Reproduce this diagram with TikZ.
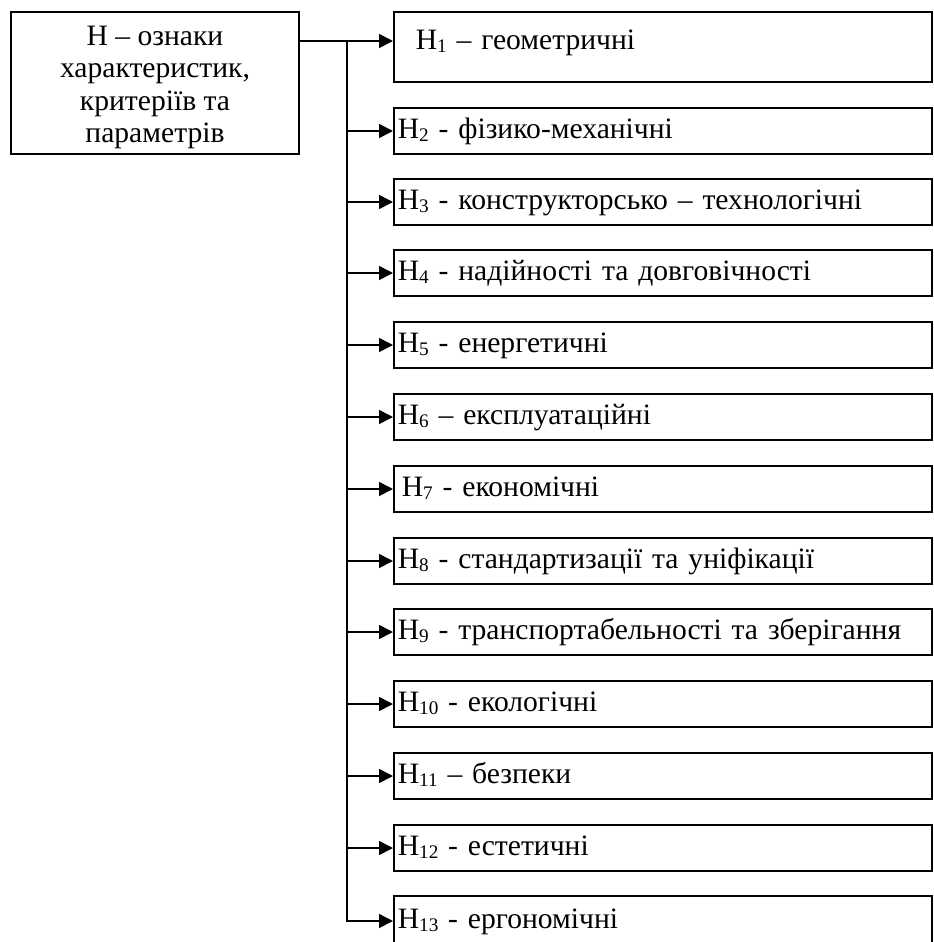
\documentclass[tikz,border=0pt]{standalone}
\usepackage{fontspec}
\setmainfont{Liberation Serif}
\usetikzlibrary{arrows.meta}
\newcommand{\hsub}[1]{\raisebox{-0.25ex}{\fontsize{9.6}{10}\selectfont #1}}
\begin{document}
\begin{tikzpicture}[x=0.5pt, y=-0.5pt, line width=0.8pt,
    every node/.style={font=\fontsize{14.8}{16.25}\selectfont},
    ozn/.style={draw, anchor=west, inner xsep=2pt, inner ysep=0pt,
      text width=265pt, align=left, text height=10pt, text depth=3pt,
      minimum height=23pt},
    arr/.style={-{Triangle[length=7pt,width=7pt]}}]
    \useasboundingbox (0,0) rectangle (933,942);

    % Hauptblock links
    \node[draw, minimum width=144pt, minimum height=71pt, align=center, inner sep=0pt]
      (h0) at (155,83) {\rule{0pt}{14pt}Н – ознаки\\характеристик,\\критеріїв та\\параметрів};

    % Gruppen rechts
    \node[ozn, minimum height=35pt, text depth=8pt] (h1) at (393,47) {\hspace*{9pt}Н\hsub{1} – геометричні};
    \node[ozn] (h2) at (393,131) {Н\hsub{2} - фізико-механічні};
    \node[ozn] (h3) at (393,202) {Н\hsub{3} - конструкторсько – технологічні};
    \node[ozn] (h4) at (393,273) {Н\hsub{4} - надійності та довговічності};
    \node[ozn] (h5) at (393,345) {Н\hsub{5} - енергетичні};
    \node[ozn] (h6) at (393,417) {Н\hsub{6} – експлуатаційні};
    \node[ozn] (h7) at (393,489) {\hspace*{2pt}Н\hsub{7} - економічні};
    \node[ozn] (h8) at (393,561) {Н\hsub{8} - стандартизації та уніфікації};
    \node[ozn] (h9) at (393,632) {Н\hsub{9} - транспортабельності та зберігання};
    \node[ozn] (h10) at (393,704) {Н\hsub{10} - екологічні};
    \node[ozn] (h11) at (393,776) {Н\hsub{11} – безпеки};
    \node[ozn] (h12) at (393,848) {Н\hsub{12} - естетичні};
    \node[ozn, minimum height=25pt] (h13) at (393,921) {Н\hsub{13} - ергономічні};

    % Verbindungen
    \coordinate (top) at (347,41);
    \draw[arr] (h0.east |- top) -- (h1.west |- top);
    \draw[arr] (top) |- (h13.west);
    \draw[arr] (top |- h2.west) -- (h2.west);
    \draw[arr] (top |- h3.west) -- (h3.west);
    \draw[arr] (top |- h4.west) -- (h4.west);
    \draw[arr] (top |- h5.west) -- (h5.west);
    \draw[arr] (top |- h6.west) -- (h6.west);
    \draw[arr] (top |- h7.west) -- (h7.west);
    \draw[arr] (top |- h8.west) -- (h8.west);
    \draw[arr] (top |- h9.west) -- (h9.west);
    \draw[arr] (top |- h10.west) -- (h10.west);
    \draw[arr] (top |- h11.west) -- (h11.west);
    \draw[arr] (top |- h12.west) -- (h12.west);
  \end{tikzpicture}
\end{document}
